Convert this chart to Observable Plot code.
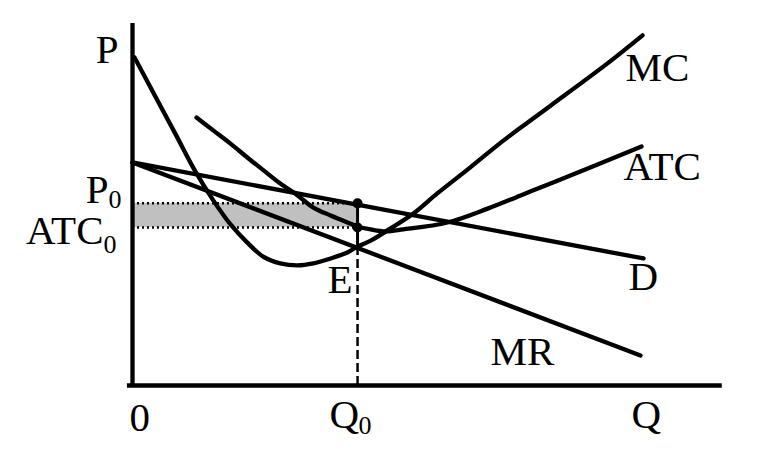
<!DOCTYPE html>
<html>
<head>
<meta charset="utf-8">
<script src="https://cdn.jsdelivr.net/npm/d3@7"></script>
<script src="https://cdn.jsdelivr.net/npm/@observablehq/plot@0.6"></script>
<style>
  html, body { margin: 0; padding: 0; background: #fff; }
  #chart svg { display: block; }
</style>
</head>
<body>
<div id="chart"></div>
<script>
// ---- data (quantity q, price p in arbitrary diagram units) ----
const mcQ = [0.04, 0.45, 0.85, 1.24, 1.59, 1.93, 2.26, 2.58, 2.91, 3.25, 3.56, 3.90, 4.23, 4.43, 4.69, 5.08, 5.53, 6.00, 6.65, 7.30, 7.78, 8.23, 9.35, 10.04];
const mcP = [9.94, 8.76, 7.61, 6.48, 5.61, 4.88, 4.33, 3.90, 3.70, 3.64, 3.70, 3.85, 4.03, 4.21, 4.39, 4.76, 5.21, 5.82, 6.61, 7.42, 7.97, 8.48, 9.76, 10.61];

const atcQ = [1.26, 1.59, 1.93, 2.26, 2.58, 2.91, 3.25, 3.56, 3.90, 4.23, 4.43, 4.69, 4.98, 5.33, 6.20, 6.99, 7.64, 8.23, 10.02];
const atcP = [8.12, 7.73, 7.33, 6.91, 6.52, 6.12, 5.76, 5.39, 5.15, 4.94, 4.82, 4.73, 4.67, 4.73, 4.94, 5.36, 5.76, 6.12, 7.24];

const dQ = [0, 10.06];
const dP = [6.76, 3.85];
const mrQ = [0, 10.0];
const mrP = [6.76, 0.91];

const Q0 = 4.43;
const P0 = 5.52;
const ATC0 = 4.79;
const E_P = 4.21;
const axisQmax = 11.61;
const axisPmax = 10.97;

// labels: text, q, p, anchor, size
const labelText   = ["P", "MC", "ATC", "D", "MR", "E", "P", "0", "ATC", "0", "0", "Q", "0", "Q"];
const labelQ      = [-0.276, 9.705, 9.665, 9.764, 7.047, 3.839, -0.472, -0.472, -0.571, -0.571, -0.059, 3.878, 4.45, 9.823];
const labelP      = [9.758, 9.242, 6.242, 2.879, 0.636, 2.818, 5.545, 5.364, 4.303, 4.030, -1.364, -1.303, -1.455, -1.303];
const labelAnchor = ["end", "start", "start", "start", "start", "start", "end", "start", "end", "start", "start", "start", "start", "start"];
const labelSize   = [41, 41, 41, 41, 41, 41, 41, 26, 41, 26, 41, 41, 26, 41];

// ---- build tables ----
const mc = mcQ.map((q, i) => ({q, p: mcP[i]}));
const atc = atcQ.map((q, i) => ({q, p: atcP[i]}));
const dem = dQ.map((q, i) => ({q, p: dP[i]}));
const mr = mrQ.map((q, i) => ({q, p: mrP[i]}));
const labels = labelText.map((t, i) => ({t, q: labelQ[i], p: labelP[i], a: labelAnchor[i], s: labelSize[i]}));

const font = "Liberation Serif, Times New Roman, serif";
const textMarks = labels.map(l => Plot.text([l], {
  x: "q", y: "p", text: "t",
  textAnchor: l.a, lineAnchor: "bottom",
  fontSize: l.s, fontFamily: font, fill: "black"
}));

const chart = Plot.plot({
  width: 767, height: 455,
  marginLeft: 132, marginRight: 127, marginTop: 55, marginBottom: 70,
  x: {domain: [0, 10], axis: null},
  y: {domain: [0, 10], axis: null},
  style: {background: "white", overflow: "visible"},
  marks: [
    // shaded profit rectangle
    Plot.rect([{x1: 0, x2: Q0, y1: ATC0, y2: P0}], {x1: "x1", x2: "x2", y1: "y1", y2: "y2", fill: "#c0c0c0"}),
    // dotted guides
    Plot.ruleY([P0, ATC0], {x1: 0, x2: Q0, stroke: "black", strokeWidth: 2.5, strokeDasharray: "2,3"}),
    // vertical at Q0
    Plot.ruleX([Q0], {y1: E_P, y2: P0, stroke: "black", strokeWidth: 3}),
    Plot.ruleX([Q0], {y1: 0, y2: E_P, stroke: "black", strokeWidth: 2.5, strokeDasharray: "9,4"}),
    // curves
    Plot.line(dem, {x: "q", y: "p", stroke: "black", strokeWidth: 4.3}),
    Plot.line(mr, {x: "q", y: "p", stroke: "black", strokeWidth: 4.3}),
    Plot.line(atc, {x: "q", y: "p", stroke: "black", strokeWidth: 4.3, curve: "catmull-rom"}),
    Plot.line(mc, {x: "q", y: "p", stroke: "black", strokeWidth: 4.3, curve: "catmull-rom"}),
    // points
    Plot.dot([{q: Q0, p: P0}, {q: Q0, p: ATC0}], {x: "q", y: "p", r: 5, fill: "black"}),
    // axes
    Plot.ruleX([0], {y1: 0, y2: axisPmax, stroke: "black", strokeWidth: 4.3}),
    Plot.ruleY([0], {x1: -0.1, x2: axisQmax, stroke: "black", strokeWidth: 4.3}),
    ...textMarks
  ]
});
document.getElementById("chart").appendChild(chart);
</script>
</body>
</html>
